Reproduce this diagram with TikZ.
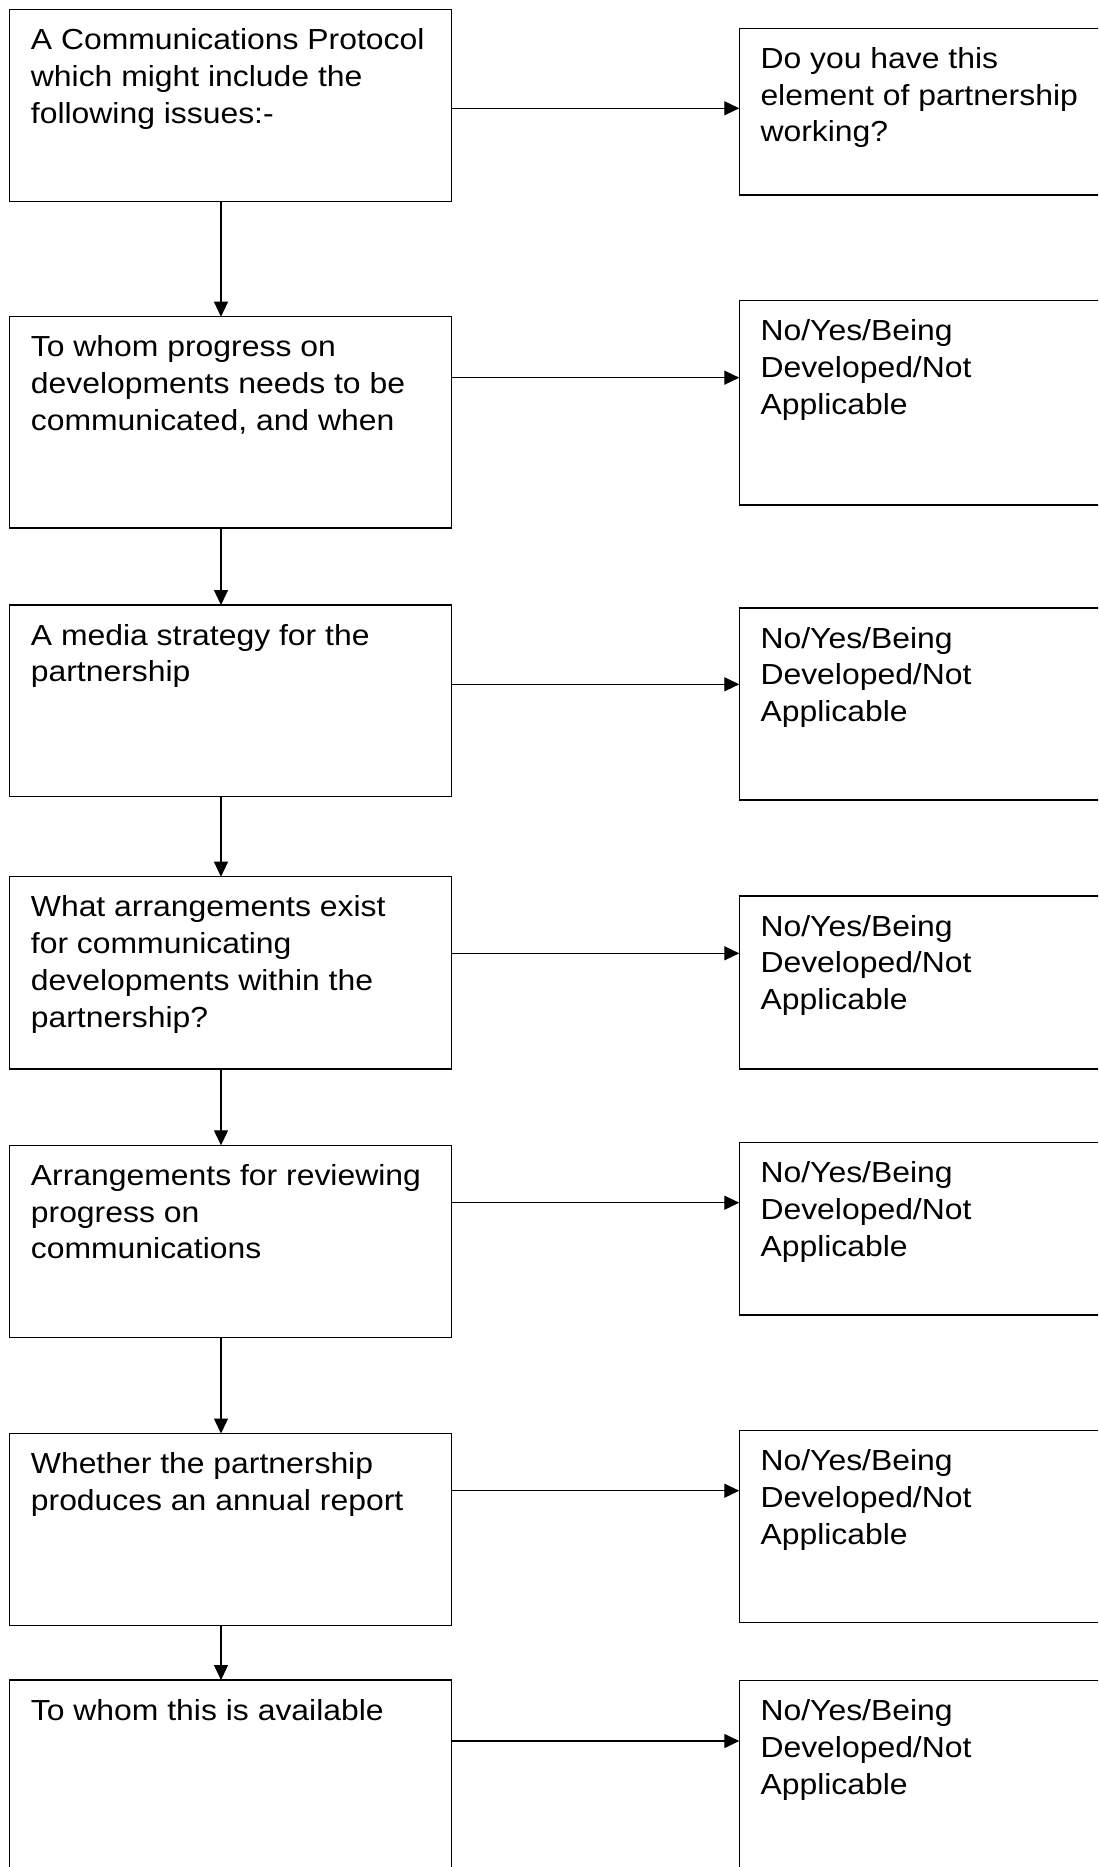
\documentclass[tikz,border=0pt]{standalone}
\usepackage{fontspec}
\setmainfont{Liberation Sans}[FakeStretch=1.1]
\usetikzlibrary{arrows.meta}

\tikzset{
  box/.style={draw, line width=1.4pt, inner sep=0pt, outer sep=0pt, anchor=north west, minimum width=442.4pt},
  rbox/.style={box, minimum width=400pt},
  txt/.style={anchor=north west, inner sep=0pt, align=left, font=\fontsize{29}{36.7}\selectfont},
  arr/.style={-{Triangle[length=15pt,width=14pt]}, line width=1.3pt},
}

\begin{document}
\begin{tikzpicture}[x=1pt,y=-1pt]
  \fill[white] (0,0) rectangle (1098,1867);
  \useasboundingbox (0,0) rectangle (1098,1867);
  \clip (0,0) rectangle (1098,1867);
  \coordinate (v) at (221,0);

  \foreach \i/\lt/\lh/\rt/\rh/\ay in {1/9.7/191.6/28.3/166.7/108.3, 2/316.7/211.3/300.7/204.3/377.7,
      3/605/191.7/608/192/684.3, 4/876.7/192.3/896/173/953.3, 5/1145.3/192.4/1142.7/172.3/1202.7,
      6/1433.5/192.2/1430.7/191.6/1490.7, 7/1680/220/1680.7/220/1741} {
    \node[box, minimum height=\lh] (l\i) at (9.3,\lt) {};
    \node[rbox, minimum height=\rh] (r\i) at (739.3,\rt) {};
    \coordinate (h\i) at (0,\ay);
    \draw[arr] (l\i.east |- h\i) -- (r\i.west |- h\i);
  }

  \foreach \i [count=\j from 2] in {1,...,6}
    \draw[arr] (l\i.south -| v) -- (l\j.north -| v);

  \node[txt] (t1) at ([shift={(21.4,14.3)}]l1.north west) {\strut A Communications Protocol\\which might include the\\following issues:-};
  \node[txt] (t2) at ([shift={(21.4,14.3)}]l2.north west) {\strut To whom progress on\\developments needs to be\\communicated, and when};
  \node[txt] (t3) at ([shift={(21.4,14.3)}]l3.north west) {\strut A media strategy for the\\partnership};
  \node[txt] (t4) at ([shift={(21.4,14.3)}]l4.north west) {\strut What arrangements exist\\for communicating\\developments within the\\partnership?};
  \node[txt] (t5) at ([shift={(21.4,14.3)}]l5.north west) {\strut Arrangements for reviewing\\progress on\\communications};
  \node[txt] (t6) at ([shift={(21.4,14.3)}]l6.north west) {\strut Whether the partnership\\produces an annual report};
  \node[txt] (t7) at ([shift={(21.4,14.3)}]l7.north west) {\strut To whom this is available};

  \node[txt] (s1) at ([shift={(21,14.3)}]r1.north west) {\strut Do you have this\\element of partnership\\working?};
  \foreach \i in {2,...,7}
    \node[txt] (s\i) at ([shift={(21,14.3)}]r\i.north west) {\strut No/Yes/Being\\Developed/Not\\Applicable};
\end{tikzpicture}
\end{document}
